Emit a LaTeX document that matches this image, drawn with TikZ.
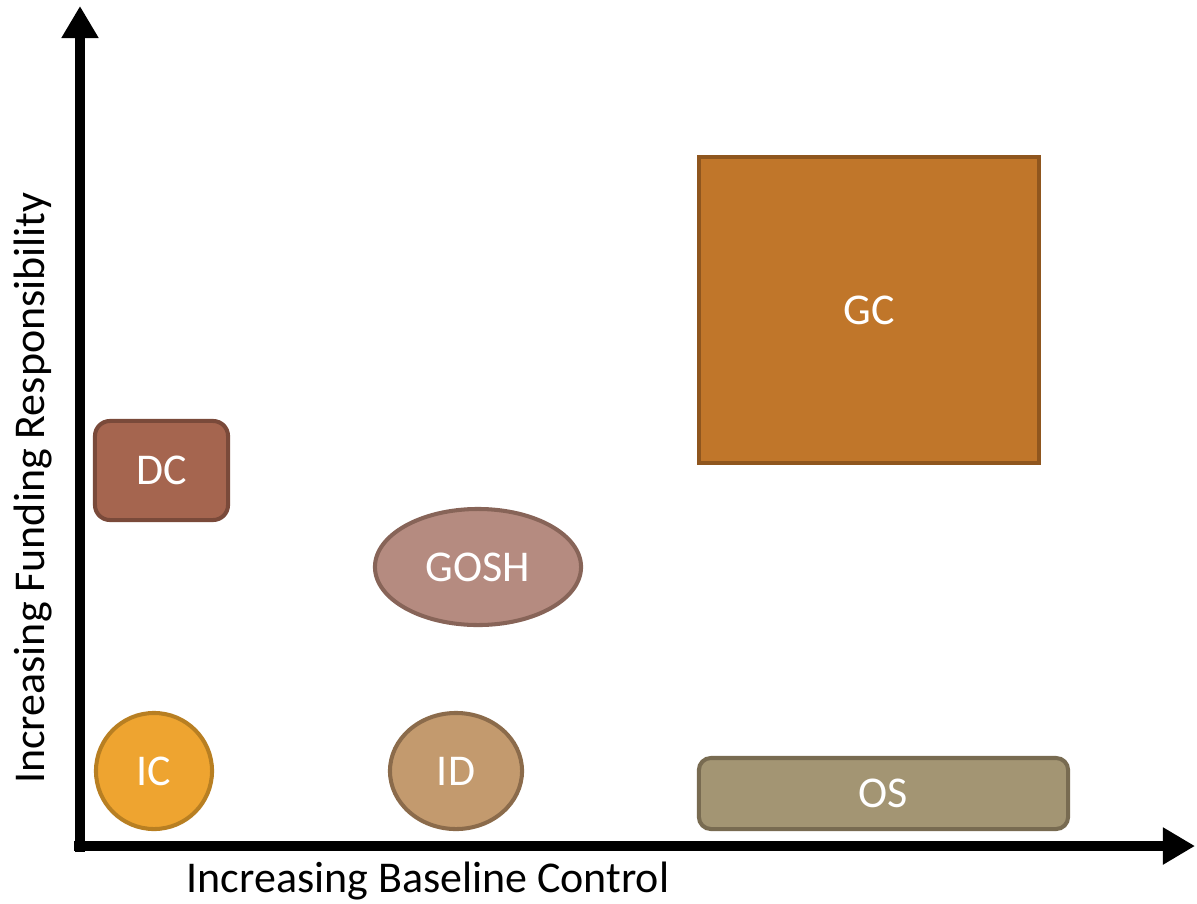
\documentclass[tikz,border=0pt]{standalone}
\usepackage{fontspec}
\setmainfont{Carlito}
\usetikzlibrary{arrows.meta,shapes.geometric}

\definecolor{dcfill}{HTML}{A5654F}
\definecolor{dcline}{HTML}{7A4A3A}
\definecolor{goshfill}{HTML}{B58B80}
\definecolor{goshline}{HTML}{876458}
\definecolor{icfill}{HTML}{EEA430}
\definecolor{icline}{HTML}{B87F22}
\definecolor{idfill}{HTML}{C39A6E}
\definecolor{idline}{HTML}{8B6B4B}
\definecolor{osfill}{HTML}{A39573}
\definecolor{osline}{HTML}{786B51}
\definecolor{gcfill}{HTML}{C0762A}
\definecolor{gcline}{HTML}{8F561E}

\begin{document}
\begin{tikzpicture}[x=0.01cm,y=-0.01cm,
  blob/.style={draw,line width=1.15pt,text=white,inner sep=0pt,
    text height=0.82em,text depth=0pt,
    font=\fontsize{12.5}{15}\selectfont},
  axis/.style={line width=2.9pt,-{Triangle[width=0.35cm,length=0.32cm]}},
  axislabel/.style={font=\fontsize{12.5}{15}\selectfont}]
  \useasboundingbox (0,0) rectangle (1197,903);

  % axes
  \coordinate (xstart) at (74,846);
  \coordinate (xend) at (1195,846);
  \coordinate (ystart) at (80,852);
  \coordinate (yend) at (80,6);
  \draw[axis] (xstart) -- (xend);
  \draw[axis] (ystart) -- (yend);

  \node[axislabel] (xlabel) at (428,881) {Increasing Baseline Control};
  \node[axislabel,rotate=90] (ylabel) at (33,488) {Increasing Funding Responsibility};

  % boxes
  \node[blob,rectangle,rounded corners=0.15cm,fill=dcfill,draw=dcline,
    minimum width=1.33cm,minimum height=0.99cm] (dc) at (161.5,470.5) {DC};
  \node[blob,ellipse,fill=goshfill,draw=goshline,
    minimum width=2.06cm,minimum height=1.16cm] (gosh) at (478,567) {GOSH};
  \node[blob,circle,fill=icfill,draw=icline,minimum size=1.16cm] (ic) at (154,771) {IC};
  \node[blob,ellipse,fill=idfill,draw=idline,
    minimum width=1.32cm,minimum height=1.16cm] (id) at (456,771) {ID};
  \node[blob,rectangle,rounded corners=0.12cm,fill=osfill,draw=osline,
    minimum width=3.69cm,minimum height=0.71cm] (os) at (883.5,793.5) {OS};
  \node[blob,rectangle,fill=gcfill,draw=gcline,
    minimum width=3.40cm,minimum height=3.06cm] (gc) at (869,310) {GC};

\end{tikzpicture}
\end{document}
